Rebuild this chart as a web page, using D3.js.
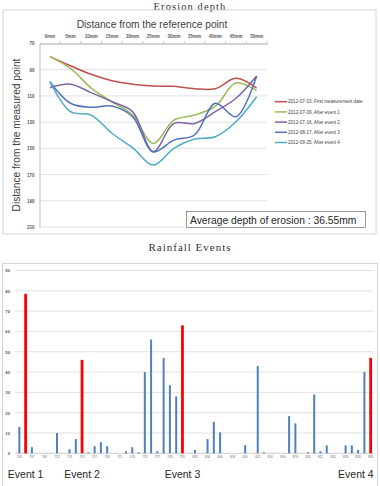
<!DOCTYPE html>
<html>
<head>
<meta charset="utf-8">
<script src="https://cdn.jsdelivr.net/npm/d3@7"></script>
<style>
  body { margin: 0; background: #fff; }
  svg { display: block; }
  .tick text { font-family: "Liberation Sans", Arial, sans-serif; }
</style>
</head>
<body>
<div id="chart"></div>
<script>
// erosion profile: distance along the section and depth readings per survey
var distances = ["0mm", "5mm", "10mm", "15mm", "20mm", "25mm", "30mm", "35mm", "40mm", "45mm", "50mm"];
var depthTicks = [70, 90, 110, 130, 150, 170, 190, 210];

var surveyNames = [
    "2012-07-03, First measurement date",
    "2012-07-09, After event 1",
    "2012-07-16, After event 2",
    "2012-08-17, After event 3",
    "2012-09-25, After event 4"
];
var survey1 = [80, 87, 93.5, 98.4, 101, 102.4, 102.7, 104.5, 104.5, 96.6, 104];
var survey2 = [80, 89, 104, 114.4, 124.6, 146.2, 128.4, 124.6, 118, 100, 106];
var survey3 = [103.7, 101, 107.5, 114.4, 122, 152.6, 131, 131, 122, 111.8, 94.8];
var survey4 = [99.2, 115.6, 118.7, 117.7, 125.9, 152.6, 143.7, 139.8, 115.6, 125.9, 94.8];
var survey5 = [99.2, 122, 124.6, 138.5, 149.5, 162.7, 150, 142.9, 141.1, 129.7, 110.6];
var surveyColors = ["#c0504d", "#9bbb59", "#8064a2", "#4f72be", "#4bacc6"];

var avgDepth = "36.55mm";

// rainfall per day, red bars are the four events
var rainDates = ["7/05","7/06","7/07","7/08","7/09","7/10","7/11","7/12","7/13","7/14",
    "7/15","7/16","7/17","7/18","7/19","7/20","7/21","7/22","7/23","7/24",
    "7/25","7/26","7/27","7/28","7/29","7/30","7/31","8/01","8/02","8/03",
    "8/04","8/05","8/06","8/07","8/08","8/09","8/10","8/11","8/12","8/13",
    "8/14","8/15","8/16","8/17","8/18","8/19","8/20","8/21","8/22","8/23",
    "8/24","8/25","8/26","8/27","8/28","8/29","8/30"];
var rainValues = [13, 78.5, 3, 0, 0, 0, 10, 0, 2, 7,
    46, 0.5, 3.5, 5.5, 3.5, 0, 0, 1, 3, 0.5,
    40, 56, 1, 47, 33.5, 28, 63, 0, 1.6, 0,
    7, 15.5, 10.3, 0, 0, 0, 4, 0, 43, 0.5,
    0, 0, 0, 18.3, 14.7, 0, 0.5, 29, 1, 3.9,
    0, 0, 3.9, 3.9, 1.6, 40, 47];
var eventDays = ["7/06", "7/15", "7/31", "8/30"];
var eventNames = ["Event 1", "Event 2", "Event 3", "Event 4"];
var rainTicks = [0, 10, 20, 30, 40, 50, 60, 70, 80, 90];

var width = 380, height = 486;
var sans = "'Liberation Sans', Arial, sans-serif";
var serif = "'Liberation Serif', 'DejaVu Serif', serif";

var svg = d3.select("#chart").append("svg")
    .attr("width", width)
    .attr("height", height);

// ---------- top panel: erosion depth ----------
svg.append("text")
    .attr("x", 190).attr("y", 9.5)
    .attr("text-anchor", "middle")
    .style("font-family", serif).style("font-size", "10.5px")
    .style("letter-spacing", "1.1px").attr("fill", "#333")
    .text("Erosion depth");

svg.append("rect")
    .attr("x", 3).attr("y", 10).attr("width", 373).attr("height", 224)
    .attr("fill", "none").attr("stroke", "#d4d4d4");

var x = d3.scaleBand()
    .domain(distances)
    .range([39.5, 267]);

var y = d3.scaleLinear()
    .domain([70, 210])
    .range([43.5, 227]);

// gridlines
svg.append("g")
    .selectAll("line")
    .data(depthTicks.slice(1))
    .join("line")
    .attr("x1", x.range()[0]).attr("x2", x.range()[1])
    .attr("y1", function(d) { return y(d); })
    .attr("y2", function(d) { return y(d); })
    .attr("stroke", "#d9d9d9").attr("stroke-width", 0.8);

var yAxis = svg.append("g")
    .attr("transform", "translate(" + x.range()[0] + ",0)")
    .call(d3.axisLeft(y).tickValues(depthTicks).tickSize(0).tickPadding(5));
yAxis.select(".domain").attr("stroke", "#bfbfbf");
yAxis.selectAll("text").style("font-size", "4.5px").style("font-weight", "bold").attr("fill", "#595959");

var xAxis = svg.append("g")
    .attr("transform", "translate(0," + y(70) + ")")
    .call(d3.axisTop(x).tickSize(0).tickPadding(6));
xAxis.select(".domain").attr("stroke", "#a6a6a6");
xAxis.selectAll("text").style("font-size", "4.5px").style("font-weight", "bold").attr("fill", "#595959");

// small tick marks on the category boundaries
svg.append("g")
    .selectAll("line")
    .data(distances)
    .join("line")
    .attr("x1", function(d) { return x(d) + x.step(); })
    .attr("x2", function(d) { return x(d) + x.step(); })
    .attr("y1", y(70)).attr("y2", y(70) - 2.5)
    .attr("stroke", "#a6a6a6").attr("stroke-width", 0.6);

svg.append("text")
    .attr("x", 152).attr("y", 28)
    .attr("text-anchor", "middle")
    .style("font-family", sans).style("font-size", "10.2px").attr("fill", "#404040")
    .text("Distance from the reference point");

svg.append("text")
    .attr("transform", "translate(20,135) rotate(-90)")
    .attr("text-anchor", "middle")
    .style("font-family", sans).style("font-size", "10.2px").attr("fill", "#404040")
    .text("Distance from the measured point");

var surveys = [survey1, survey2, survey3, survey4, survey5];

var line = d3.line()
    .x(function(d, i) { return x(distances[i]) + x.bandwidth() / 2; })
    .y(function(d) { return y(d); })
    .curve(d3.curveCatmullRom.alpha(0.5));

svg.append("g")
    .selectAll("path")
    .data(surveys)
    .join("path")
    .attr("d", line)
    .attr("fill", "none")
    .attr("stroke", function(d, i) { return surveyColors[i]; })
    .attr("stroke-width", 1.5);

// legend
var legend = svg.append("g")
    .selectAll("g")
    .data(surveyNames)
    .join("g")
    .attr("transform", function(d, i) { return "translate(275," + (101.7 + i * 10.2) + ")"; });

legend.append("line")
    .attr("x1", 0).attr("x2", 12)
    .attr("stroke", function(d, i) { return surveyColors[i]; })
    .attr("stroke-width", 1.5);

legend.append("text")
    .attr("x", 13).attr("dy", "0.35em")
    .style("font-family", sans).style("font-size", "4.6px").attr("fill", "#404040")
    .text(function(d) { return d; });

// average depth box
svg.append("rect")
    .attr("x", 186.5).attr("y", 211.5).attr("width", 179).attr("height", 16)
    .attr("fill", "#fff").attr("stroke", "#7f7f7f").attr("stroke-width", 0.8);

svg.append("text")
    .attr("x", 190).attr("y", 224)
    .style("font-family", sans).style("font-size", "10.3px").attr("fill", "#262626")
    .text("Average depth of erosion :  " + avgDepth);

// ---------- bottom panel: rainfall events ----------
svg.append("text")
    .attr("x", 190).attr("y", 251)
    .attr("text-anchor", "middle")
    .style("font-family", serif).style("font-size", "11px")
    .style("letter-spacing", "1px").attr("fill", "#333")
    .text("Rainfall Events");

svg.append("rect")
    .attr("x", 2.5).attr("y", 263.5).attr("width", 375).attr("height", 230)
    .attr("fill", "none").attr("stroke", "#d4d4d4");

var xb = d3.scaleBand()
    .domain(rainDates)
    .range([16.2, 373.8]);

var yb = d3.scaleLinear()
    .domain([0, 90])
    .range([453.3, 270.5]);

svg.append("g")
    .selectAll("line")
    .data(rainTicks)
    .join("line")
    .attr("x1", 15).attr("x2", xb.range()[1])
    .attr("y1", function(d) { return yb(d); })
    .attr("y2", function(d) { return yb(d); })
    .attr("stroke", function(d) { return d === 0 ? "#bfbfbf" : "#d9d9d9"; })
    .attr("stroke-width", 0.8);

var ybAxis = svg.append("g")
    .attr("transform", "translate(15,0)")
    .call(d3.axisLeft(yb).tickValues(rainTicks).tickSize(0).tickPadding(5));
ybAxis.select(".domain").remove();
ybAxis.selectAll("text").style("font-size", "4.2px").style("font-weight", "bold").attr("fill", "#595959");

var xbAxis = svg.append("g")
    .attr("transform", "translate(0," + yb(0) + ")")
    .call(d3.axisBottom(xb)
        .tickValues(rainDates.filter(function(d, i) { return i % 2 === 0; }))
        .tickSize(0).tickPadding(3));
xbAxis.select(".domain").remove();
xbAxis.selectAll("text").style("font-size", "2.6px").attr("fill", "#595959");

svg.append("g")
    .selectAll("rect")
    .data(rainValues)
    .join("rect")
    .attr("x", function(d, i) {
        var w = eventDays.indexOf(rainDates[i]) >= 0 ? 2.8 : 2;
        return xb(rainDates[i]) + xb.bandwidth() / 2 - w / 2;
    })
    .attr("width", function(d, i) { return eventDays.indexOf(rainDates[i]) >= 0 ? 2.8 : 2; })
    .attr("y", function(d) { return yb(d); })
    .attr("height", function(d) { return yb(0) - yb(d); })
    .attr("fill", function(d, i) { return eventDays.indexOf(rainDates[i]) >= 0 ? "#ff0000" : "#4f81bd"; });

// event captions under the red bars
svg.append("g")
    .selectAll("text")
    .data(eventDays)
    .join("text")
    .attr("x", function(d, i) {
        var cx = xb(d) + xb.bandwidth() / 2;
        return i === eventDays.length - 1 ? cx + 3 : cx;
    })
    .attr("y", 478)
    .attr("text-anchor", function(d, i) { return i === eventDays.length - 1 ? "end" : "middle"; })
    .style("font-family", sans).style("font-size", "10.5px").attr("fill", "#262626")
    .text(function(d, i) { return eventNames[i]; });
</script>
</body>
</html>
